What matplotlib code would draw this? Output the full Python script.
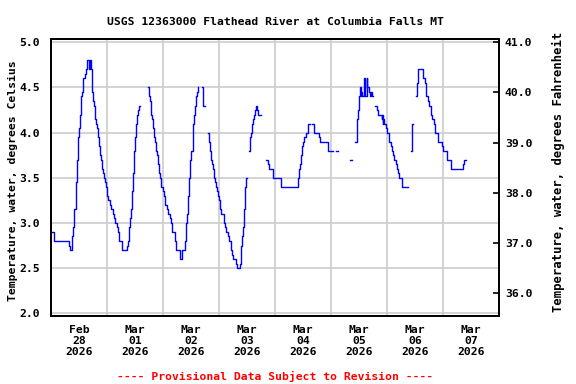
import numpy as np
import pandas as pd
import matplotlib
matplotlib.use("Agg")
import matplotlib.pyplot as plt
import matplotlib.dates as mdates
from matplotlib.ticker import FormatStrFormatter, MultipleLocator

# hours since 2026-02-28 00:00 and water temperature (deg C)
# nan marks a gap in the record
hours = [0.0, 1.3, 7.7, 8.0, 8.7, 9.2, 9.5, 9.9, 10.4, 10.7, 11.1, 11.6, 12.0, 12.4,
         12.7, 13.3, 13.7, 14.3, 14.7, 15.4, 16.3, 16.6, 16.9, 17.3, 17.7, 18.2, 18.6,
         19.0, 19.6, 20.0, 20.4, 20.9, 21.3, 21.6, 22.0, 22.4, 22.9, 23.3, 23.7, 24.3,
         25.0, 25.7, 26.3, 26.9, 27.4, 28.0, 28.6, 29.2, 30.3,
         32.6, 32.8, 33.2, 33.6, 34.0, 34.4, 34.9, 35.3, 35.7, 36.2, 36.6, 37.0, 37.4, 37.9,
         41.3, 41.9, 42.3, 42.7, 43.2, 43.6, 44.0, 44.5, 44.9, 45.3, 45.7, 46.2, 46.6,
         47.0, 47.7, 48.4, 48.9, 49.6, 50.2, 50.7, 51.3, 51.7, 52.9, 53.6, 55.2, 56.2,
         57.3, 57.6, 57.8, 57.9, 58.3, 58.7, 59.2, 59.6, 60.0, 60.6, 61.0, 61.5, 61.9,
         62.3, 62.7, 62.9,
         64.4, 64.9, 65.2, 65.8,
         67.2, 67.7, 68.2, 68.6, 69.0, 69.3, 69.6, 70.0, 70.4, 70.9, 71.3, 72.0, 72.4,
         72.9, 74.0, 74.4, 75.0, 75.7, 76.3, 77.0, 77.4, 78.0, 79.0, 79.7, 80.7, 81.2,
         81.4, 81.9, 82.3, 82.7, 83.2, 83.4, 83.7,
         84.7, 85.2, 85.6, 86.0, 86.5, 87.0, 87.4, 87.9, 88.3, 88.7, 89.7,
         92.2, 93.0, 93.4, 95.2, 98.6, 105.6, 105.9, 106.3, 106.7, 107.2, 107.6, 108.0,
         108.5, 109.3, 110.2, 110.8,
         111.6, 112.7, 114.6, 115.0, 118.7, 120.9,
         122.0, 122.7,
         128.0, 128.7,
         130.3, 130.9, 131.2, 131.6, 132.0, 132.3, 132.7, 132.9, 133.1, 134.1, 134.3,
         135.2, 135.5, 136.3, 136.6, 136.9, 137.3, 137.8,
         138.9, 139.7, 140.2, 141.6, 141.9, 142.1, 142.3, 142.7, 143.5, 144.0, 144.9,
         145.6, 146.0, 146.6, 147.0, 147.6, 148.2, 148.6, 149.2, 150.3, 153.0,
         154.2, 154.5, 154.8,
         156.3, 156.6, 157.0, 159.5, 160.0, 160.4, 160.7, 161.3, 161.9, 162.6, 163.3,
         163.9, 164.3, 165.6, 167.6, 168.0, 169.6, 171.3, 176.6, 177.0, 177.9]
temp_c = [2.9, 2.8, 2.75, 2.7, 2.85, 2.9, 2.95, 3.15, 3.2, 3.45, 3.7, 3.95, 4.05, 4.2,
          4.4, 4.45, 4.6, 4.65, 4.7, 4.8, 4.7, 4.8, 4.7, 4.45, 4.35, 4.3, 4.15,
          4.1, 4.05, 3.95, 3.85, 3.75, 3.7, 3.6, 3.55, 3.5, 3.45, 3.4, 3.3, 3.25,
          3.2, 3.15, 3.1, 3.05, 3.0, 2.95, 2.9, 2.8, 2.7,
          2.75, 2.8, 2.95, 3.05, 3.15, 3.35, 3.55, 3.8, 3.95, 4.1, 4.2, 4.25, 4.3, np.nan,
          4.5, 4.4, 4.35, 4.2, 4.15, 4.05, 3.95, 3.9, 3.8, 3.75, 3.65, 3.55, 3.5,
          3.4, 3.35, 3.3, 3.2, 3.15, 3.1, 3.05, 3.0, 2.9, 2.8, 2.7, 2.6, 2.7,
          2.8, 2.9, 2.8, 3.0, 3.1, 3.3, 3.5, 3.7, 3.8, 4.1, 4.2, 4.3, 4.4,
          4.45, 4.5, np.nan,
          4.5, 4.4, 4.3, np.nan,
          4.0, 3.9, 3.8, 3.7, 3.65, 3.6, 3.5, 3.45, 3.4, 3.35, 3.3, 3.25, 3.15,
          3.1, 3.0, 2.95, 2.9, 2.85, 2.8, 2.7, 2.65, 2.6, 2.55, 2.5, 2.55, 2.6,
          2.75, 2.85, 2.95, 3.15, 3.4, 3.5, np.nan,
          3.8, 3.95, 4.0, 4.1, 4.15, 4.2, 4.25, 4.3, 4.25, 4.2, np.nan,
          3.7, 3.65, 3.6, 3.5, 3.4, 3.45, 3.5, 3.6, 3.65, 3.75, 3.85, 3.9,
          3.95, 4.0, 4.1, np.nan,
          4.1, 4.0, 3.95, 3.9, 3.8, np.nan,
          3.8, np.nan,
          3.7, np.nan,
          3.9, 4.0, 4.15, 4.25, 4.4, 4.5, 4.4, 4.45, 4.4, 4.6, 4.4,
          4.6, 4.5, 4.45, 4.4, 4.45, 4.4, np.nan,
          4.3, 4.25, 4.2, 4.15, 4.2, 4.1, 4.15, 4.1, 4.05, 4.0, 3.9,
          3.85, 3.8, 3.75, 3.7, 3.65, 3.6, 3.55, 3.5, 3.4, np.nan,
          3.8, 4.1, np.nan,
          4.4, 4.55, 4.7, 4.6, 4.55, 4.5, 4.4, 4.35, 4.3, 4.2, 4.15,
          4.1, 4.0, 3.9, 3.85, 3.8, 3.7, 3.6, 3.65, 3.7, np.nan]

start = pd.Timestamp("2026-02-28 00:00")
end = pd.Timestamp("2026-03-08 00:00")
times = start + pd.to_timedelta(hours, unit="h")

title = "USGS 12363000 Flathead River at Columbia Falls MT"
ylabel_c = "Temperature, water, degrees Celsius"
ylabel_f = "Temperature, water, degrees Fahrenheit"
note = "---- Provisional Data Subject to Revision ----"

mono = "DejaVu Sans Mono"
fs = 8.2

fig = plt.figure(figsize=(5.76, 3.84), dpi=100)
ax = fig.add_axes([51.3 / 576, 1 - 315.7 / 384, 448 / 576, 276.4 / 384])

ax.plot(times, temp_c, drawstyle="steps-post", color="blue", lw=1.0)

ylo, yhi = 1.973, 5.033
ax.set_ylim(ylo, yhi)
ax.set_xlim(start, end)
ax.yaxis.set_major_locator(MultipleLocator(0.5))
ax.yaxis.set_major_formatter(FormatStrFormatter("%.1f"))

ax.xaxis.set_major_locator(mdates.HourLocator(byhour=12))
ax.xaxis.set_major_formatter(mdates.DateFormatter("%b\n%d\n%Y"))
ax.xaxis.set_minor_locator(mdates.DayLocator())
ax.grid(True, which="minor", axis="x", color="#cccccc", lw=1.2)
ax.grid(True, which="major", axis="y", color="#cccccc", lw=1.2)
ax.set_axisbelow(True)

ax.tick_params(axis="x", which="both", length=0, pad=7)
ax.tick_params(axis="y", length=0, pad=8)
for lab in ax.get_xticklabels() + ax.get_yticklabels():
    lab.set_family(mono)
    lab.set_fontsize(fs)
    lab.set_fontweight("bold")
for lab in ax.get_xticklabels():
    lab.set_linespacing(1.1)

for sp in ax.spines.values():
    sp.set_linewidth(1.3)

ax.set_ylabel(ylabel_c, family=mono, fontsize=fs, fontweight="bold")
ax.yaxis.set_label_coords(-0.075, 0.49)

ax2 = ax.twinx()
ax2.set_ylim(ylo * 1.8 + 32, yhi * 1.8 + 32)
ax2.yaxis.set_major_locator(MultipleLocator(1.0))
ax2.yaxis.set_major_formatter(FormatStrFormatter("%.1f"))
ax2.tick_params(axis="y", direction="in", length=4, width=1.2, pad=4)
for lab in ax2.get_yticklabels():
    lab.set_family(mono)
    lab.set_fontsize(fs)
    lab.set_fontweight("bold")
ax2.set_ylabel(ylabel_f, family=mono, fontsize=fs + 0.6, fontweight="bold")
ax2.yaxis.set_label_coords(1.118, 0.52)
for sp in ax2.spines.values():
    sp.set_linewidth(1.3)

ax.set_title(title, family=mono, fontsize=fs, fontweight="bold", pad=10)
fig.text(275.3 / 576, 1 - 376 / 384, note, family=mono, fontsize=fs,
         fontweight="bold", color="red", ha="center", va="center")

fig.savefig("out.png", dpi=100)
